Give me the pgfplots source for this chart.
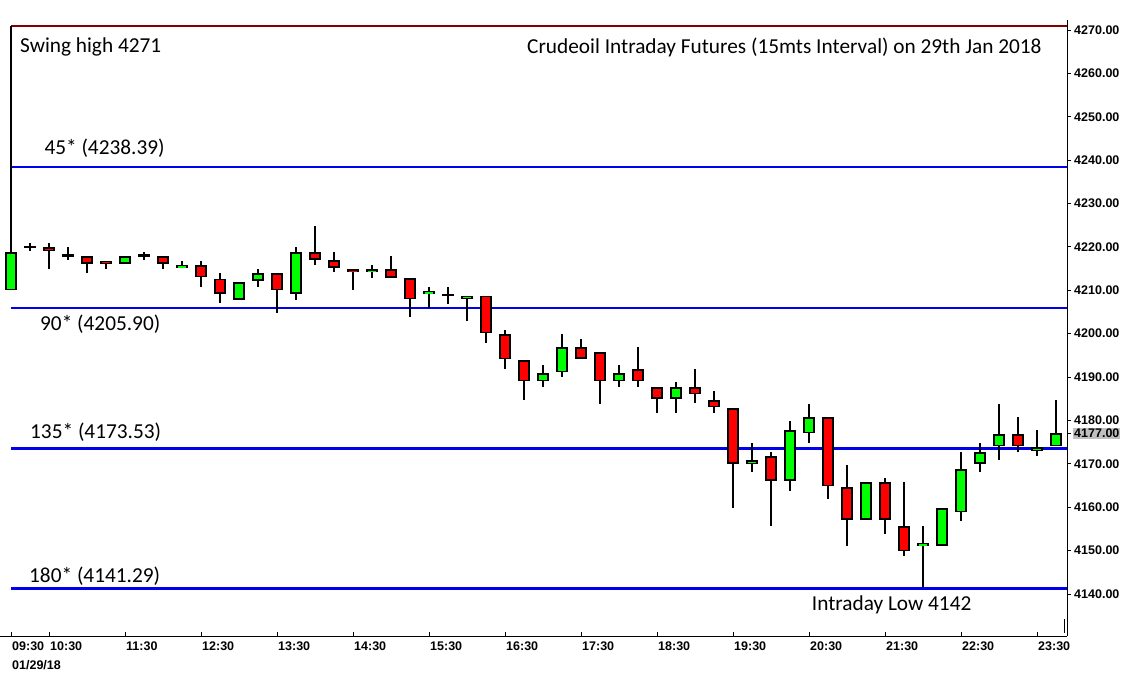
\documentclass[border=0pt]{standalone}
\usepackage{pgfplots}
\pgfplotsset{compat=1.18}
\usepackage{pgfplotstable}
\usepackage{fontspec}
\setmainfont{Carlito}
\newfontfamily\tickfont{Liberation Sans}
\definecolor{candlegreen}{RGB}{0,255,0}
\definecolor{candlered}{RGB}{255,0,0}
\definecolor{levelblue}{RGB}{0,0,235}
\definecolor{swingred}{RGB}{128,0,0}

\pgfplotstableread{
i  O       H       L       C
0  4210.0  4271.0  4210.0  4218.75
1  4220.0  4220.8  4219.1  4220.0
2  4219.9  4220.8  4215.0  4219.0
3  4218.0  4219.9  4217.1  4218.0
4  4217.8  4217.8  4214.1  4216.1
5  4216.8  4216.8  4215.0  4216.0
6  4216.1  4217.8  4216.1  4217.8
7  4218.0  4218.8  4217.1  4218.0
8  4217.8  4217.8  4215.0  4216.1
9  4215.1  4216.8  4215.1  4215.8
10 4215.8  4216.8  4210.8  4213.0
11 4212.7  4213.9  4207.0  4209.1
12 4207.8  4211.8  4207.8  4211.8
13 4212.1  4214.9  4210.8  4213.9
14 4213.9  4213.9  4204.8  4210.0
15 4209.1  4220.0  4207.8  4218.8
16 4218.8  4224.8  4215.9  4217.1
17 4216.9  4218.8  4214.1  4215.1
18 4214.8  4214.8  4210.0  4214.1
19 4214.1  4215.8  4212.9  4214.8
20 4214.8  4217.9  4212.9  4212.9
21 4212.8  4212.8  4203.9  4207.9
22 4209.1  4210.8  4205.9  4209.8
23 4208.9  4210.8  4206.9  4208.9
24 4207.9  4208.8  4203.0  4208.8
25 4208.8  4208.8  4197.9  4200.1
26 4199.9  4200.8  4191.9  4194.1
27 4193.9  4193.9  4184.8  4189.0
28 4189.0  4192.8  4187.8  4190.9
29 4191.1  4199.9  4189.9  4196.9
30 4196.9  4198.8  4194.1  4194.1
31 4195.7  4195.7  4183.9  4189.0
32 4189.0  4192.8  4187.8  4190.9
33 4191.8  4196.9  4187.8  4189.0
34 4187.6  4187.6  4181.8  4184.9
35 4184.9  4188.9  4181.8  4187.6
36 4187.6  4191.9  4183.9  4186.0
37 4184.6  4186.8  4181.8  4183.0
38 4182.8  4182.8  4159.9  4169.9
39 4169.9  4174.8  4168.0  4170.8
40 4171.7  4172.7  4155.7  4166.0
41 4166.0  4179.9  4163.8  4177.7
42 4177.0  4183.8  4174.9  4180.7
43 4180.7  4180.7  4161.8  4164.8
44 4164.6  4169.7  4151.0  4157.0
45 4157.0  4165.7  4157.0  4165.7
46 4165.7  4166.7  4153.9  4157.0
47 4155.6  4165.8  4148.8  4149.8
48 4151.0  4155.7  4141.7  4151.7
49 4151.0  4159.7  4151.0  4159.7
50 4158.8  4172.7  4156.9  4168.7
51 4169.9  4174.8  4168.0  4172.7
52 4174.0  4183.8  4170.9  4176.8
53 4176.8  4180.8  4172.8  4174.0
54 4172.9  4177.8  4171.9  4173.8
55 4174.0  4184.7  4174.0  4177.0
}\ohlc

\begin{document}
\begin{tikzpicture}[x=1pt,y=1pt]
\path[use as bounding box] (0,-39) rectangle (1122,636);
\begin{axis}[
  at={(0,0)}, anchor=south west,
  scale only axis, width=1067pt, height=616pt,
  xmin=-0.5789, xmax=55.58, ymin=4130.3, ymax=4272.3,
  axis x line=bottom, axis y line=right,
  axis line style={-, black, line width=1pt},
  xtick={0,2,6,10,14,18,22,26,30,34,38,42,46,50,54},
  xticklabels={09:30,10:30,11:30,12:30,13:30,14:30,15:30,16:30,17:30,18:30,19:30,20:30,21:30,22:30,23:30},
  xticklabel style={anchor=north west, inner sep=0pt, xshift=1pt, yshift=-6pt,
    font=\fontsize{12.5}{14}\selectfont\tickfont\bfseries},
  ytick={4140,4150,4160,4170,4180,4190,4200,4210,4220,4230,4240,4250,4260,4270},
  yticklabel={\pgfmathprintnumber[fixed,fixed zerofill,precision=2,1000 sep={},assume math mode=true]{\tick}},
  yticklabel style={anchor=west, inner sep=0pt, xshift=3pt,
    font=\fontsize{12.5}{14}\selectfont\tickfont\bfseries},
  extra y ticks={4177},
  extra y tick labels={4177.00},
  extra y tick style={yticklabel style={fill=black!25, inner sep=1pt, xshift=-1pt}},
  major tick length=4pt,
  tick style={black, line width=0.8pt},
  xtick align=inside, ytick align=outside,
  clip=true,
]
% level lines
\addplot[swingred, line width=2pt, forget plot] coordinates {(0,4271) (55.58,4271)};
\addplot[levelblue, line width=2.5pt, forget plot] coordinates {(0,4238.39) (55.58,4238.39)};
\addplot[levelblue, line width=2.5pt, forget plot] coordinates {(0,4205.90) (55.58,4205.90)};
\addplot[levelblue, line width=2.5pt, forget plot] coordinates {(0,4173.53) (55.58,4173.53)};
\addplot[levelblue, line width=2.5pt, forget plot] coordinates {(0,4141.29) (55.58,4141.29)};
% wicks
\addplot[draw=none, mark=none, forget plot,
  error bars/.cd, y dir=both, y explicit, error mark=none,
  error bar style={draw=black, line width=1.5pt}]
  table[x=i, y expr={(\thisrow{H}+\thisrow{L})/2}, y error expr={(\thisrow{H}-\thisrow{L})/2}] {\ohlc};
% body outlines
\addplot[draw=none, mark=none, forget plot,
  error bars/.cd, y dir=both, y explicit, error mark=none,
  error bar style={draw=black, line width=12.7pt}]
  table[x=i, y expr={(\thisrow{O}+\thisrow{C})/2}, y error expr={max(abs(\thisrow{C}-\thisrow{O})/2,0.3)}] {\ohlc};
% green fills
\addplot[draw=none, mark=none, forget plot,
  restrict expr to domain={\thisrow{C}-\thisrow{O}}{0.01:1000},
  error bars/.cd, y dir=both, y explicit, error mark=none,
  error bar style={draw=candlegreen, line width=8.7pt}]
  table[x=i, y expr={(\thisrow{O}+\thisrow{C})/2}, y error expr={max(abs(\thisrow{C}-\thisrow{O})/2-0.4,0.1)}] {\ohlc};
% red fills
\addplot[draw=none, mark=none, forget plot,
  restrict expr to domain={\thisrow{O}-\thisrow{C}}{0.01:1000},
  error bars/.cd, y dir=both, y explicit, error mark=none,
  error bar style={draw=candlered, line width=8.7pt}]
  table[x=i, y expr={(\thisrow{O}+\thisrow{C})/2}, y error expr={max(abs(\thisrow{C}-\thisrow{O})/2-0.4,0.1)}] {\ohlc};
% small end marker
\addplot[black, line width=0.8pt, forget plot] coordinates {(55.42,4131.0) (55.42,4134.2)};
\end{axis}
\begin{scope}[every node/.style={inner sep=0pt, anchor=base west, font=\fontsize{21.3}{25}\selectfont}]
\node at (20,583.7) {Swing high 4271};
\node at (527,582) {Crudeoil Intraday Futures (15mts Interval) on 29th Jan 2018};
\node at (44.3,481) {45* (4238.39)};
\node at (40,305) {90* (4205.90)};
\node at (30,197.7) {135* (4173.53)};
\node at (29,54) {180* (4141.29)};
\node at (811.7,25.3) {Intraday Low 4142};
\end{scope}
\node[inner sep=0pt, anchor=base west, font=\fontsize{12.5}{14}\selectfont\tickfont\bfseries] at (12,-33.5) {01/29/18};
\end{tikzpicture}
\end{document}
